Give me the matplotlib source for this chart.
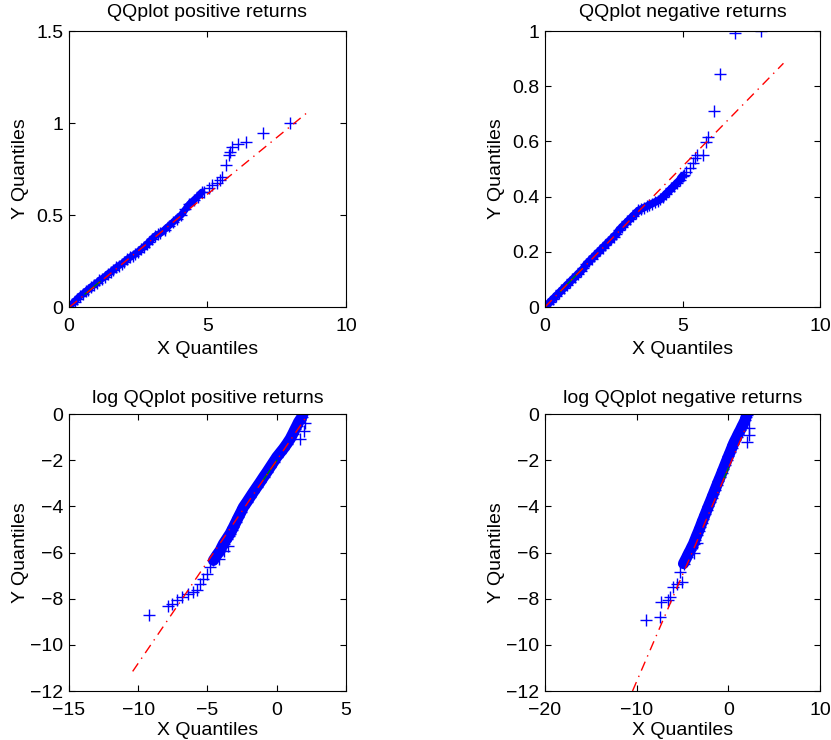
import matplotlib
matplotlib.use("Agg")
import matplotlib.pyplot as plt

plt.rcParams['font.family'] = ['Liberation Sans', 'DejaVu Sans']
plt.rcParams['font.size'] = 14

# each panel: dense band of quantile pairs, isolated tail points, fitted line, quartile segment

# QQ plot, positive returns
pos_band_x = [0.00, 0.10, 0.20, 0.30, 0.40, 0.50, 0.60, 0.70, 0.80, 0.90, 1.00, 1.10, 1.20, 1.30,
              1.40, 1.50, 1.60, 1.70, 1.80, 1.90, 2.00, 2.10, 2.20, 2.30, 2.40, 2.50, 2.60, 2.70,
              2.80, 2.90, 3.00, 3.10, 3.20, 3.30, 3.45, 3.60, 3.75, 3.90, 4.05, 4.20, 4.35, 4.50,
              4.65, 4.80]
pos_band_y = [0.00, 0.015, 0.03, 0.045, 0.06, 0.07, 0.085, 0.095, 0.11, 0.12, 0.13, 0.145, 0.155, 0.165,
              0.18, 0.19, 0.20, 0.215, 0.225, 0.235, 0.245, 0.26, 0.27, 0.28, 0.29, 0.30, 0.315, 0.325,
              0.34, 0.355, 0.37, 0.385, 0.395, 0.40, 0.42, 0.44, 0.46, 0.48, 0.50, 0.53, 0.56, 0.58,
              0.60, 0.625]
pos_pts_x = [4.86, 5.04, 5.16, 5.34, 5.46, 5.52, 5.67, 5.76, 5.82, 5.90, 6.12, 6.39, 7.02, 7.99]
pos_pts_y = [0.627, 0.645, 0.663, 0.672, 0.69, 0.708, 0.772, 0.826, 0.844, 0.871, 0.886, 0.895, 0.947, 0.998]
pos_line = ([0.02, 8.71], [0.0, 1.07])
pos_quart = ([0.58, 1.12], [0.071, 0.138])

# QQ plot, negative returns
neg_band_x = [0.00, 0.10, 0.20, 0.30, 0.40, 0.50, 0.60, 0.70, 0.80, 0.90, 1.00, 1.10, 1.20, 1.30,
              1.40, 1.50, 1.60, 1.70, 1.80, 1.90, 2.00, 2.10, 2.20, 2.30, 2.40, 2.50, 2.60, 2.70,
              2.80, 2.90, 3.00, 3.10, 3.20, 3.30, 3.40, 3.50, 3.60, 3.70, 3.80, 3.90, 4.00, 4.10,
              4.20, 4.30, 4.40, 4.50, 4.60, 4.70, 4.80, 4.90, 5.00]
neg_band_y = [0.00, 0.01, 0.02, 0.03, 0.04, 0.05, 0.06, 0.07, 0.08, 0.09, 0.10, 0.11, 0.12, 0.13,
              0.14, 0.155, 0.165, 0.175, 0.185, 0.195, 0.205, 0.215, 0.225, 0.235, 0.245, 0.255, 0.265, 0.28,
              0.29, 0.30, 0.31, 0.32, 0.33, 0.34, 0.35, 0.355, 0.36, 0.365, 0.37, 0.375, 0.38, 0.385,
              0.39, 0.40, 0.41, 0.42, 0.43, 0.44, 0.45, 0.46, 0.475]
neg_pts_x = [5.04, 5.13, 5.28, 5.37, 5.47, 5.52, 5.74, 5.86, 5.92, 6.16, 6.37, 6.91, 7.86]
neg_pts_y = [0.478, 0.49, 0.502, 0.52, 0.539, 0.551, 0.551, 0.599, 0.615, 0.711, 0.844, 0.992, 1.0]
neg_line = ([0.0, 8.67], [0.0, 0.883])
neg_quart = ([0.56, 1.34], [0.057, 0.137])

# log QQ plot, positive returns
lpos_band_x = [-4.57, -4.33, -4.08, -3.96, -3.84, -3.72, -3.60, -3.48, -3.36, -3.24, -3.12, -2.94,
               -2.76, -2.58, -2.40, -2.16, -1.92, -1.68, -1.43, -1.19, -0.95, -0.71, -0.47, -0.23,
               0.01, 0.25, 0.49, 0.74, 0.98, 1.16, 1.34, 1.46, 1.58, 1.70, 1.82, 1.89]
lpos_band_y = [-6.34, -6.12, -5.91, -5.76, -5.62, -5.51, -5.40, -5.29, -5.18, -5.04, -4.90, -4.68,
               -4.46, -4.25, -4.03, -3.82, -3.60, -3.38, -3.16, -2.95, -2.73, -2.52, -2.30, -2.08,
               -1.86, -1.68, -1.50, -1.29, -1.07, -0.86, -0.64, -0.50, -0.35, -0.24, -0.13, 0.0]
lpos_pts_x = [-9.22, -7.82, -7.58, -7.22, -6.86, -6.37, -6.01, -5.77, -5.53, -5.29, -5.05, -4.81,
              2.05, 1.95, 1.70, -3.80, -3.50, -4.20]
lpos_pts_y = [-8.69, -8.33, -8.22, -8.07, -7.93, -7.78, -7.71, -7.64, -7.35, -7.13, -6.92, -6.63,
              -0.40, -0.75, -1.10, -5.95, -5.70, -6.30]
lpos_line = ([-10.4, 2.13], [-11.15, -0.13])
lpos_quart = ([-0.95, 0.0], [-2.84, -2.01])

# log QQ plot, negative returns
lneg_band_x = [-4.89, -4.53, -4.35, -4.16, -3.98, -3.80, -3.62, -3.44, -3.25, -3.07, -2.89, -2.71,
               -2.53, -2.35, -2.17, -1.98, -1.80, -1.62, -1.44, -1.26, -1.08, -0.89, -0.71, -0.53,
               -0.35, -0.17, 0.01, 0.20, 0.38, 0.56, 0.74, 0.92, 1.10, 1.29, 1.47, 1.65, 1.83,
               1.92, 2.01]
lneg_band_y = [-6.48, -6.20, -6.05, -5.91, -5.76, -5.62, -5.44, -5.26, -5.08, -4.90, -4.71, -4.53,
               -4.35, -4.17, -3.99, -3.81, -3.63, -3.45, -3.27, -3.09, -2.91, -2.73, -2.55, -2.37,
               -2.19, -2.01, -1.83, -1.65, -1.47, -1.29, -1.14, -1.00, -0.85, -0.71, -0.56, -0.42,
               -0.27, -0.15, -0.06]
lneg_pts_x = [-8.96, -7.50, -7.36, -6.63, -6.34, -6.09, -5.62, -5.07, -5.25,
              2.30, 2.20, 2.00, -3.40, -3.70]
lneg_pts_y = [-8.91, -8.79, -8.14, -8.07, -7.93, -7.49, -7.35, -7.28, -6.84,
              -0.60, -0.90, -1.20, -5.60, -6.00]
lneg_line = ([-10.45, 1.94], [-12.0, -0.56])
lneg_quart = ([-0.53, 0.01], [-2.84, -2.34])

titles = ['QQplot positive returns', 'QQplot negative returns',
          'log QQplot positive returns', 'log QQplot negative returns']
xticks = [[0, 5, 10], [0, 5, 10], [-15, -10, -5, 0, 5], [-20, -10, 0, 10]]
yticks = [[0, 0.5, 1, 1.5], [0, 0.2, 0.4, 0.6, 0.8, 1], [-12, -10, -8, -6, -4, -2, 0],
          [-12, -10, -8, -6, -4, -2, 0]]
xlims = [(0, 10), (0, 10), (-15, 5), (-20, 10)]
ylims = [(0, 1.5), (0, 1), (-12, 0), (-12, 0)]

panels = [(pos_band_x, pos_band_y, pos_pts_x, pos_pts_y, pos_line, pos_quart),
          (neg_band_x, neg_band_y, neg_pts_x, neg_pts_y, neg_line, neg_quart),
          (lpos_band_x, lpos_band_y, lpos_pts_x, lpos_pts_y, lpos_line, lpos_quart),
          (lneg_band_x, lneg_band_y, lneg_pts_x, lneg_pts_y, lneg_line, lneg_quart)]

positions = [[0.0830, 0.5851, 0.3333, 0.3730],
             [0.6558, 0.5851, 0.3310, 0.3730],
             [0.0830, 0.0662, 0.3333, 0.3743],
             [0.6558, 0.0662, 0.3310, 0.3743]]
band_width = [5.0, 5.5, 8.0, 8.0]
title_pad = [10, 10, 8, 8]
ylabel_pad = [5, 5, 1, 1]
xlabel_pad = [4, 4, 2, 2]

blue = '#0000ff'


def fmt(v):
    return ('%g' % v).replace('-', '\u2212')


fig = plt.figure(figsize=(8.31, 7.40), dpi=100)

for i, (bx, by, tx, ty, line, quart) in enumerate(panels):
    ax = fig.add_axes(positions[i])
    # many overlapping markers in the reference merge into a solid band
    ax.plot(bx, by, '-', color=blue, linewidth=band_width[i], solid_capstyle='round')
    ax.plot(bx, by, '+', color=blue, markersize=9, markeredgewidth=1.0, linestyle='none')
    ax.plot(tx, ty, '+', color=blue, markersize=9, markeredgewidth=1.0, linestyle='none')
    ax.plot(quart[0], quart[1], '-', color='#008000', linewidth=1.0)
    ax.plot(line[0], line[1], color='#ff0000', linewidth=1.0, linestyle=(0, (7, 4, 1, 4)))
    ax.set_xlim(*xlims[i])
    ax.set_ylim(*ylims[i])
    ax.set_xticks(xticks[i], [fmt(v) for v in xticks[i]])
    ax.set_yticks(yticks[i], [fmt(v) for v in yticks[i]])
    ax.tick_params(direction='in', length=4, width=0.8, top=True, right=True)
    ax.tick_params(axis='x', pad=8)
    ax.tick_params(axis='y', pad=4)
    ax.set_title(titles[i], fontsize=14, pad=title_pad[i])
    ax.set_xlabel('X Quantiles', labelpad=xlabel_pad[i])
    ax.set_ylabel('Y Quantiles', labelpad=ylabel_pad[i])
    for s in ax.spines.values():
        s.set_linewidth(0.8)

fig.savefig('out.png', dpi=100)
